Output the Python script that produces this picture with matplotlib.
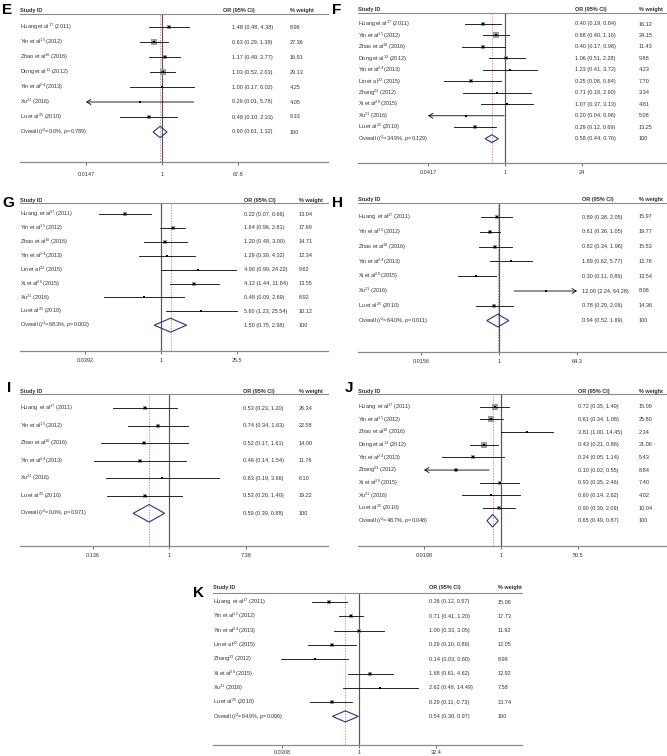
import numpy as np
import matplotlib
matplotlib.use('Agg')
import matplotlib.pyplot as plt
from matplotlib.ticker import NullLocator
from matplotlib.transforms import blended_transform_factory

plt.rcParams['font.family'] = ['Liberation Sans', 'DejaVu Sans']
plt.rcParams['mathtext.fontset'] = 'custom'
plt.rcParams['mathtext.rm'] = 'Liberation Sans'
plt.rcParams['mathtext.it'] = 'Liberation Sans:italic'

# ---------- panel E ----------
e_study = [r"Huang et al$^{17}$ (2011)", r"Yin et al$^{15}$ (2012)", r"Zhao et al$^{16}$ (2016)",
           r"Dong et al$^{13}$ (2012)", r"Yin et al$^{24}$ (2013)", r"Xu$^{21}$ (2016)",
           r"Lu et al$^{25}$ (2010)"]
e_or = [1.48, 0.63, 1.17, 1.03, 1.00, 0.29, 0.48]
e_lo = [0.48, 0.29, 0.49, 0.52, 0.17, 0.01, 0.10]
e_hi = [4.38, 1.39, 2.77, 2.03, 6.02, 5.78, 2.33]
e_wt = [8.96, 27.36, 16.91, 29.13, 4.25, 4.05, 9.33]
e_overall = [0.90, 0.61, 1.32]
e_het = ["0.0%", "0.789"]
e_ticks = [0.0147, 1, 67.8]
e_tick_labels = ["0.0147", "1", "67.8"]

# ---------- panel F ----------
f_study = [r"Huang et al$^{17}$ (2011)", r"Yin et al$^{15}$ (2012)", r"Zhao et al$^{16}$ (2016)",
           r"Dong et al$^{13}$ (2012)", r"Yin et al$^{24}$ (2013)", r"Lin et al$^{22}$ (2015)",
           r"Zhang$^{23}$ (2012)", r"Xi et al$^{20}$ (2015)", r"Xu$^{21}$ (2016)",
           r"Lu et al$^{25}$ (2010)"]
f_or = [0.40, 0.68, 0.40, 1.06, 1.23, 0.25, 0.71, 1.07, 0.20, 0.29]
f_lo = [0.19, 0.40, 0.17, 0.51, 0.41, 0.08, 0.18, 0.37, 0.04, 0.12]
f_hi = [0.84, 1.16, 0.98, 2.28, 3.72, 0.84, 2.90, 3.13, 0.96, 0.69]
f_wt = [16.12, 24.15, 11.43, 9.88, 4.23, 7.70, 3.34, 4.81, 5.08, 13.25]
f_overall = [0.58, 0.44, 0.76]
f_het = ["34.9%", "0.129"]
f_ticks = [0.0417, 1, 24]
f_tick_labels = ["0.0417", "1", "24"]

# ---------- panel G ----------
g_study = [r"Huang  et al$^{17}$ (2011)", r"Yin et al$^{15}$ (2012)", r"Zhao et al$^{16}$ (2016)",
           r"Yin et al$^{24}$ (2013)", r"Lin et al$^{22}$ (2015)", r"Xi et al$^{20}$ (2015)",
           r"Xu$^{21}$ (2016)", r"Lu et al$^{25}$ (2010)"]
g_or = [0.22, 1.64, 1.20, 1.29, 4.90, 4.12, 0.48, 5.60]
g_lo = [0.07, 0.96, 0.48, 0.39, 0.99, 1.44, 0.09, 1.23]
g_hi = [0.66, 2.81, 3.00, 4.32, 24.22, 11.84, 2.69, 25.54]
g_wt = [13.04, 17.69, 14.71, 12.34, 9.62, 13.55, 8.92, 10.12]
g_overall = [1.50, 0.75, 2.98]
g_het = ["68.3%", "0.002"]
g_ticks = [0.0392, 1, 25.5]
g_tick_labels = ["0.0392", "1", "25.5"]

# ---------- panel H ----------
h_study = [r"Huang  et al$^{17}$ (2011)", r"Yin et al$^{15}$ (2012)", r"Zhao et al$^{16}$ (2016)",
           r"Yin et al$^{24}$ (2013)", r"Xi et al$^{20}$ (2015)", r"Xu$^{21}$ (2016)",
           r"Lu et al$^{25}$ (2010)"]
h_or = [0.89, 0.61, 0.82, 1.89, 0.30, 12.00, 0.78]
h_lo = [0.38, 0.36, 0.34, 0.62, 0.11, 2.24, 0.29]
h_hi = [2.05, 1.05, 1.96, 5.77, 0.86, 64.28, 2.06]
h_wt = [15.97, 19.77, 15.53, 12.76, 13.54, 8.06, 14.36]
h_overall = [0.94, 0.52, 1.69]
h_het = ["64.0%", "0.011"]
h_ticks = [0.0156, 1, 64.3]
h_tick_labels = ["0.0156", "1", "64.3"]

# ---------- panel I ----------
i_study = [r"Huang  et al$^{17}$ (2011)", r"Yin et al$^{15}$ (2012)", r"Zhao et al$^{16}$ (2016)",
           r"Yin et al$^{24}$ (2013)", r"Xu$^{21}$ (2016)", r"Lu et al$^{25}$ (2010)"]
i_or = [0.53, 0.74, 0.52, 0.46, 0.83, 0.53]
i_lo = [0.23, 0.34, 0.17, 0.14, 0.19, 0.20]
i_hi = [1.20, 1.63, 1.61, 1.54, 3.66, 1.40]
i_wt = [26.34, 22.58, 14.00, 11.76, 6.10, 19.22]
i_overall = [0.59, 0.39, 0.88]
i_het = ["0.0%", "0.971"]
i_ticks = [0.136, 1, 7.38]
i_tick_labels = ["0.136", "1", "7.38"]

# ---------- panel J ----------
j_study = [r"Huang  et al$^{17}$ (2011)", r"Yin et al$^{15}$ (2012)", r"Zhao et al$^{16}$ (2016)",
           r"Dong et al$^{13}$ (2012)", r"Yin et al$^{24}$ (2013)", r"Zhang$^{23}$ (2012)",
           r"Xi et al$^{20}$ (2015)", r"Xu$^{21}$ (2016)", r"Lu et al$^{25}$ (2010)"]
j_or = [0.72, 0.61, 3.81, 0.43, 0.24, 0.10, 0.93, 0.60, 0.90]
j_lo = [0.35, 0.34, 1.00, 0.21, 0.05, 0.02, 0.35, 0.14, 0.39]
j_hi = [1.49, 1.08, 14.45, 0.86, 1.14, 0.55, 2.46, 2.62, 2.09]
j_wt = [15.09, 25.80, 2.34, 21.06, 5.43, 8.84, 7.40, 4.02, 10.04]
j_overall = [0.65, 0.49, 0.87]
j_het = ["48.7%", "0.048"]
j_ticks = [0.0198, 1, 50.5]
j_tick_labels = ["0.0198", "1", "50.5"]

# ---------- panel K ----------
k_study = [r"Huang  et al$^{17}$ (2011)", r"Yin et al$^{15}$ (2012)", r"Yin et al$^{24}$ (2013)",
           r"Lin et al$^{22}$ (2015)", r"Zhang$^{23}$ (2012)", r"Xi et al$^{20}$ (2015)",
           r"Xu$^{21}$ (2016)", r"Lu et al$^{25}$ (2010)"]
k_or = [0.26, 0.71, 1.00, 0.29, 0.14, 1.68, 2.62, 0.29]
k_lo = [0.12, 0.41, 0.33, 0.10, 0.03, 0.61, 0.48, 0.11]
k_hi = [0.57, 1.20, 3.05, 0.89, 0.60, 4.62, 14.49, 0.73]
k_wt = [15.06, 17.73, 11.92, 12.05, 8.99, 12.92, 7.58, 13.74]
k_overall = [0.54, 0.30, 0.97]
k_het = ["64.9%", "0.006"]
k_ticks = [0.0308, 1, 32.4]
k_tick_labels = ["0.0308", "1", "32.4"]

# CIs that run off the axis get an arrow: panel -> (row, side)
arrows = {'E': (5, 'left'), 'F': (8, 'left'), 'H': (5, 'right'), 'J': (5, 'left')}

# layout in figure pixels (667 x 756)
W, H = 667, 756
panels = [
    dict(name='E', study=e_study, OR=e_or, lo=e_lo, hi=e_hi, wt=e_wt, overall=e_overall, het=e_het,
         ticks=e_ticks, tl=e_tick_labels, L=20, R=328, top=14, bot=162, p1=162, pM=238,
         first=27, dy=15, head=10, lab=175, or_x=232, or_hx=223, wt_x=290, lx=2, ly=14, k=1.2, dh=0.38),
    dict(name='F', study=f_study, OR=f_or, lo=f_lo, hi=f_hi, wt=f_wt, overall=f_overall, het=f_het,
         ticks=f_ticks, tl=f_tick_labels, L=358, R=666, top=13, bot=163, p1=505, pM=582,
         first=24, dy=11.47, head=10, lab=173, or_x=575, or_hx=575, wt_x=639, lx=332, ly=14, k=1.2, dh=0.34),
    dict(name='G', study=g_study, OR=g_or, lo=g_lo, hi=g_hi, wt=g_wt, overall=g_overall, het=g_het,
         ticks=g_ticks, tl=g_tick_labels, L=20, R=328, top=203, bot=351, p1=161, pM=237,
         first=214, dy=13.9, head=200, lab=360.5, or_x=244, or_hx=244, wt_x=299, lx=2, ly=207, k=0.85, dh=0.5),
    dict(name='H', study=h_study, OR=h_or, lo=h_lo, hi=h_hi, wt=h_wt, overall=h_overall, het=h_het,
         ticks=h_ticks, tl=h_tick_labels, L=358, R=666, top=203, bot=352, p1=499, pM=577,
         first=217, dy=14.8, head=199.5, lab=362, or_x=582, or_hx=582, wt_x=639, lx=332, ly=207, k=0.8, dh=0.43),
    dict(name='I', study=i_study, OR=i_or, lo=i_lo, hi=i_hi, wt=i_wt, overall=i_overall, het=i_het,
         ticks=i_ticks, tl=i_tick_labels, L=20, R=328, top=394, bot=546, p1=169.5, pM=246.5,
         first=408.3, dy=17.5, head=391, lab=556, or_x=243, or_hx=243, wt_x=299, lx=7, ly=392, k=0.9, dh=0.5),
    dict(name='J', study=j_study, OR=j_or, lo=j_lo, hi=j_hi, wt=j_wt, overall=j_overall, het=j_het,
         ticks=j_ticks, tl=j_tick_labels, L=358, R=666, top=394, bot=546, p1=501, pM=578,
         first=406.7, dy=12.67, head=391, lab=556, or_x=578, or_hx=578, wt_x=639, lx=345, ly=392, k=1.3, dh=0.5),
    dict(name='K', study=k_study, OR=k_or, lo=k_lo, hi=k_hi, wt=k_wt, overall=k_overall, het=k_het,
         ticks=k_ticks, tl=k_tick_labels, L=213, R=522, top=593, bot=745, p1=359, pM=436,
         first=602, dy=14.3, head=588, lab=753, or_x=429, or_hx=429, wt_x=498, lx=193, ly=597, k=1.0, dh=0.39),
]

FS = 4.0
TXT = '#333333'
fig = plt.figure(figsize=(W / 100, H / 100), dpi=100)

for p in panels:
    L, R, top, bot = p['L'], p['R'], p['top'], p['bot']
    ax = fig.add_axes([L / W, 1 - bot / H, (R - L) / W, (bot - top) / H])
    ax.set_xscale('log')
    s = (p['pM'] - p['p1']) / np.log(p['ticks'][2])
    ax.set_xlim(np.exp((L - p['p1']) / s), np.exp((R - p['p1']) / s))
    ax.set_ylim((bot - p['first']) / p['dy'], (top - p['first']) / p['dy'])

    for side in ['left', 'right']:
        ax.spines[side].set_visible(False)
    ax.spines['top'].set_color('#8a8a8a')
    ax.spines['top'].set_linewidth(0.8)
    ax.spines['bottom'].set_color('#8a8a8a')
    ax.spines['bottom'].set_linewidth(0.9)
    ax.set_yticks([])
    ax.set_xticks(p['ticks'])
    ax.set_xticklabels(p['tl'])
    ax.xaxis.set_minor_locator(NullLocator())
    ax.tick_params(axis='x', direction='out', length=1.8, width=0.6, color='#555555',
                   labelsize=FS, labelcolor=TXT, pad=max(p['lab'] - bot - 2.5 - 3, 0.5) * 0.72)

    tr = blended_transform_factory(ax.transAxes, ax.transData)
    fx = lambda px: (px - L) / (R - L)
    n = len(p['study'])

    # null line and overall effect line
    ax.axvline(p['overall'][0], color='#e07a7a', lw=0.55, ls=(0, (2, 1.6)), zorder=1)
    ax.axvline(1, color='#555555', lw=0.85, zorder=1)

    # header
    ax.text(0, (p['head'] - p['first']) / p['dy'], 'Study ID', transform=tr, fontsize=FS,
            fontweight='bold', color=TXT, va='center', ha='left', clip_on=False)
    ax.text(fx(p['or_hx']), (p['head'] - p['first']) / p['dy'], 'OR (95% CI)', transform=tr,
            fontsize=FS, fontweight='bold', color=TXT, va='center', ha='left', clip_on=False)
    ax.text(fx(p['wt_x']), (p['head'] - p['first']) / p['dy'], '% weight', transform=tr,
            fontsize=FS, fontweight='bold', color=TXT, va='center', ha='left', clip_on=False)

    # studies
    arrow = arrows.get(p['name'])
    for i in range(n):
        OR, lo, hi, w = p['OR'][i], p['lo'][i], p['hi'][i], p['wt'][i]
        side_pt = p['k'] * np.sqrt(w) * 0.72
        ax.scatter([OR], [i], marker='s', s=side_pt ** 2, color='#9c9c9c', linewidths=0, zorder=2)
        if arrow and arrow[0] == i:
            if arrow[1] == 'left':
                start, tip = hi, p['ticks'][0]
            else:
                start, tip = lo, p['ticks'][2]
            ax.annotate('', xy=(tip, i), xytext=(start, i),
                        arrowprops=dict(arrowstyle='->,head_length=0.3,head_width=0.18',
                                        lw=0.6, color='black', shrinkA=0, shrinkB=0), zorder=3)
        else:
            ax.plot([lo, hi], [i, i], color='black', lw=0.6, zorder=3)
        ax.scatter([OR], [i], marker='s', s=2.4, color='black', linewidths=0, zorder=4)

        ax.text(0, i, p['study'][i], transform=tr, fontsize=FS, color=TXT, va='center', ha='left')
        ax.text(fx(p['or_x']), i, f"{OR:.2f} ({lo:.2f}, {hi:.2f})", transform=tr, fontsize=FS,
                color=TXT, va='center', ha='left')
        ax.text(fx(p['wt_x']), i, f"{w:.2f}", transform=tr, fontsize=FS, color=TXT,
                va='center', ha='left')

    # overall diamond
    o, olo, ohi = p['overall']
    dh = p['dh']
    ax.fill([olo, o, ohi, o, olo], [n, n - dh, n, n + dh, n], fill=False,
            edgecolor='#2e3192', lw=0.8, zorder=3)
    ax.text(0, n, rf"Overall ($I^2$={p['het'][0]}, $p$={p['het'][1]})", transform=tr,
            fontsize=FS, color=TXT, va='center', ha='left')
    ax.text(fx(p['or_x']), n, f"{o:.2f} ({olo:.2f}, {ohi:.2f})", transform=tr, fontsize=FS,
            color=TXT, va='center', ha='left')
    ax.text(fx(p['wt_x']), n, "100", transform=tr, fontsize=FS, color=TXT, va='center', ha='left')

    # panel letter
    fig.text(p['lx'] / W, 1 - p['ly'] / H, p['name'], fontsize=11, fontweight='bold',
             color='black', ha='left', va='baseline')

fig.savefig('out.png', dpi=100)
